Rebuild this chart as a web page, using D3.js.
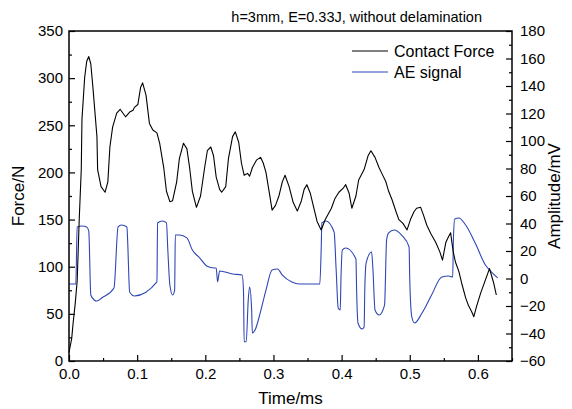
<!DOCTYPE html>
<html lang="en">
<head>
<meta charset="utf-8"/>
<title>Contact force and AE signal</title>
<script src="https://d3js.org/d3.v7.min.js"></script>
<style>
  body { margin: 0; background: #fff; }
  text { font-family: Arial, "Liberation Sans", sans-serif; fill: #000; }
</style>
</head>
<body>
<svg id="chart" width="572" height="409"></svg>
<script>
// contact force (N) vs time (ms)
const forceTime = [0.000,0.004,0.006,0.009,0.012,0.015,0.018,0.019,0.023,0.026,0.029,0.032,0.035,0.041,0.042,0.047,
  0.053,0.057,0.060,0.064,0.070,0.075,0.080,0.083,0.089,0.094,0.096,0.101,0.105,0.108,0.113,0.118,0.123,0.129,
  0.133,0.139,0.143,0.148,0.152,0.158,0.162,0.168,0.173,0.177,0.181,0.187,0.193,0.199,0.203,0.208,0.212,0.216,
  0.221,0.224,0.230,0.234,0.240,0.244,0.249,0.253,0.257,0.262,0.265,0.269,0.275,0.281,0.285,0.289,0.294,0.298,
  0.303,0.308,0.313,0.317,0.323,0.329,0.335,0.341,0.345,0.349,0.354,0.360,0.364,0.370,0.376,0.382,0.385,0.390,
  0.396,0.402,0.406,0.411,0.415,0.421,0.425,0.433,0.439,0.443,0.449,0.455,0.459,0.465,0.469,0.474,0.480,0.484,
  0.490,0.496,0.501,0.506,0.510,0.516,0.520,0.525,0.531,0.538,0.544,0.548,0.553,0.557,0.560,0.561,0.564,0.567,
  0.572,0.576,0.582,0.586,0.591,0.594,0.598,0.604,0.611,0.617,0.623,0.627];
const forceVal = [9,24,40,60,85,150,203,256,301,318,323,315,291,238,203,185,
  179,190,227,248,263,267,262,259,264,266,269,272,290,295,282,252,245,242,
  231,205,180,169,170,190,215,231,225,205,180,163,175,205,223,227,218,195,
  182,179,185,215,238,243,232,210,197,199,196,205,213,216,210,200,178,160,
  165,175,190,197,185,168,159,170,182,187,178,160,148,139,150,158,162,172,
  179,183,187,178,162,175,192,203,218,223,216,205,199,190,180,171,158,150,
  146,139,150,158,162,163,155,144,135,126,116,107,126,132,136,130,115,105,
  95,83,67,59,52,47,58,72,86,98,83,70];

// AE signal amplitude (mV) vs time (ms)
const aeTime = [0.000,0.010,0.012,0.019,0.026,0.029,0.032,0.037,0.041,0.048,0.066,0.072,0.077,0.085,0.086,0.089,
  0.096,0.129,0.130,0.137,0.143,0.145,0.148,0.152,0.155,0.156,0.162,0.173,0.181,0.192,0.202,0.213,0.216,0.218,
  0.221,0.240,0.254,0.256,0.257,0.260,0.263,0.265,0.268,0.269,0.273,0.279,0.289,0.298,0.306,0.313,0.327,0.338,
  0.368,0.370,0.371,0.377,0.389,0.392,0.395,0.398,0.399,0.401,0.406,0.421,0.422,0.424,0.430,0.433,0.434,0.436,
  0.444,0.446,0.449,0.455,0.463,0.466,0.469,0.477,0.488,0.499,0.500,0.503,0.507,0.518,0.532,0.547,0.557,0.563,
  0.564,0.566,0.572,0.582,0.596,0.611,0.620,0.629];
const aeVal = [-4,-4,37.5,38.2,37.5,34.5,-12,-15.6,-16.4,-14.2,-6.9,37.5,38.9,37.5,28,-9.8,
  -12.7,-2.5,40.4,41.8,40.4,20.7,-4.7,-12,-8.4,31.6,31.6,29.5,20.7,14.9,9.1,7.6,7.6,-2.5,
  5.5,3.3,2.5,-8.4,-46,-46,-15.6,-6.2,-22.9,-39.6,-37.5,-28,-8.4,6.2,6.9,2.5,-2.5,-4,
  -4,20.7,40.4,41.8,33.8,6.2,-21.5,-22.9,-1.1,20.7,22.2,14.2,-8.4,-32.4,-36.7,-35.3,-8.4,11.3,
  19.3,6.2,-22.9,-26.5,-19.3,28,33.1,35.3,31.6,22.9,-1.1,-28,-32.4,-25.1,-12,1.1,1.8,1.1,
  28,43.3,44,38.9,25.8,9.8,4.7,0.4];

const timeTicks = [0, 0.1, 0.2, 0.3, 0.4, 0.5, 0.6];
const timeMinor = [0.05, 0.15, 0.25, 0.35, 0.45, 0.55, 0.65];
const forceTicks = [0, 50, 100, 150, 200, 250, 300, 350];
const forceMinor = [25, 75, 125, 175, 225, 275, 325];
const ampTicks = [-60, -40, -20, 0, 20, 40, 60, 80, 100, 120, 140, 160, 180];
const ampMinor = [-50, -30, -10, 10, 30, 50, 70, 90, 110, 130, 150, 170];

const seriesNames = ["Contact Force", "AE signal"];
const seriesColors = ["#000000", "#2f46b6"];

const margin = {top: 31, right: 60, bottom: 48, left: 69},
  width = 572 - margin.left - margin.right,
  height = 409 - margin.top - margin.bottom;

const svg = d3.select("#chart");
const g = svg.append("g").attr("transform", `translate(${margin.left},${margin.top})`);

const x = d3.scaleLinear().domain([0, 0.65]).range([0, width]);
const yF = d3.scaleLinear().domain([0, 350]).range([height, 0]);
const yA = d3.scaleLinear().domain([-60, 180]).range([height, 0]);

// axes: ticks point inwards
function styleAxis(sel) {
  sel.select(".domain").remove();
  sel.selectAll(".tick line").attr("stroke", "#000").attr("stroke-width", 1.2);
  sel.selectAll(".tick text").attr("font-size", "15px").attr("fill", "#000");
}

g.append("g").attr("transform", `translate(0,${height})`)
  .call(d3.axisBottom(x).tickValues(timeTicks).tickSize(-6).tickPadding(7).tickFormat(d3.format(".1f")))
  .call(styleAxis);
g.append("g").attr("transform", `translate(0,${height})`)
  .call(d3.axisBottom(x).tickValues(timeMinor).tickSize(-3).tickFormat(""))
  .call(styleAxis);

g.append("g")
  .call(d3.axisLeft(yF).tickValues(forceTicks).tickSize(-6).tickPadding(6))
  .call(styleAxis);
g.append("g")
  .call(d3.axisLeft(yF).tickValues(forceMinor).tickSize(-3).tickFormat(""))
  .call(styleAxis);

g.append("g").attr("transform", `translate(${width},0)`)
  .call(d3.axisRight(yA).tickValues(ampTicks).tickSize(-6).tickPadding(8))
  .call(styleAxis);
g.append("g").attr("transform", `translate(${width},0)`)
  .call(d3.axisRight(yA).tickValues(ampMinor).tickSize(-3).tickFormat(""))
  .call(styleAxis);

// curves
const forceLine = d3.line()
  .x((d, i) => x(forceTime[i]))
  .y(d => yF(d));
const aeLine = d3.line()
  .x((d, i) => x(aeTime[i]))
  .y(d => yA(d))
  .curve(d3.curveMonotoneX);

g.append("path").datum(aeVal)
  .attr("d", aeLine)
  .attr("fill", "none")
  .attr("stroke", seriesColors[1])
  .attr("stroke-width", 1.1);

g.append("path").datum(forceVal)
  .attr("d", forceLine)
  .attr("fill", "none")
  .attr("stroke", seriesColors[0])
  .attr("stroke-width", 1.1)
  .attr("stroke-linejoin", "round");

// frame
g.append("rect")
  .attr("width", width).attr("height", height)
  .attr("fill", "none").attr("stroke", "#000").attr("stroke-width", 1.5);

// legend
const legend = g.append("g").attr("transform", `translate(${width - 160},20)`);
seriesNames.forEach((name, i) => {
  legend.append("line")
    .attr("x1", 0).attr("x2", 36)
    .attr("y1", i * 21).attr("y2", i * 21)
    .attr("stroke", seriesColors[i]).attr("stroke-width", 1.2);
  legend.append("text")
    .attr("x", 42).attr("y", i * 21).attr("dy", "0.35em")
    .attr("font-size", "16px")
    .text(name);
});

// title and axis titles
svg.append("text")
  .attr("x", 482).attr("y", 22)
  .attr("text-anchor", "end").attr("font-size", "14.5px")
  .text("h=3mm, E=0.33J, without delamination");

svg.append("text")
  .attr("x", margin.left + width / 2).attr("y", 404)
  .attr("text-anchor", "middle").attr("font-size", "17px")
  .text("Time/ms");

svg.append("text")
  .attr("transform", `translate(24,${margin.top + height / 2}) rotate(-90)`)
  .attr("text-anchor", "middle").attr("font-size", "17px")
  .text("Force/N");

svg.append("text")
  .attr("transform", `translate(560,${margin.top + height / 2}) rotate(-90)`)
  .attr("text-anchor", "middle").attr("font-size", "17px")
  .text("Amplitude/mV");
</script>
</body>
</html>
